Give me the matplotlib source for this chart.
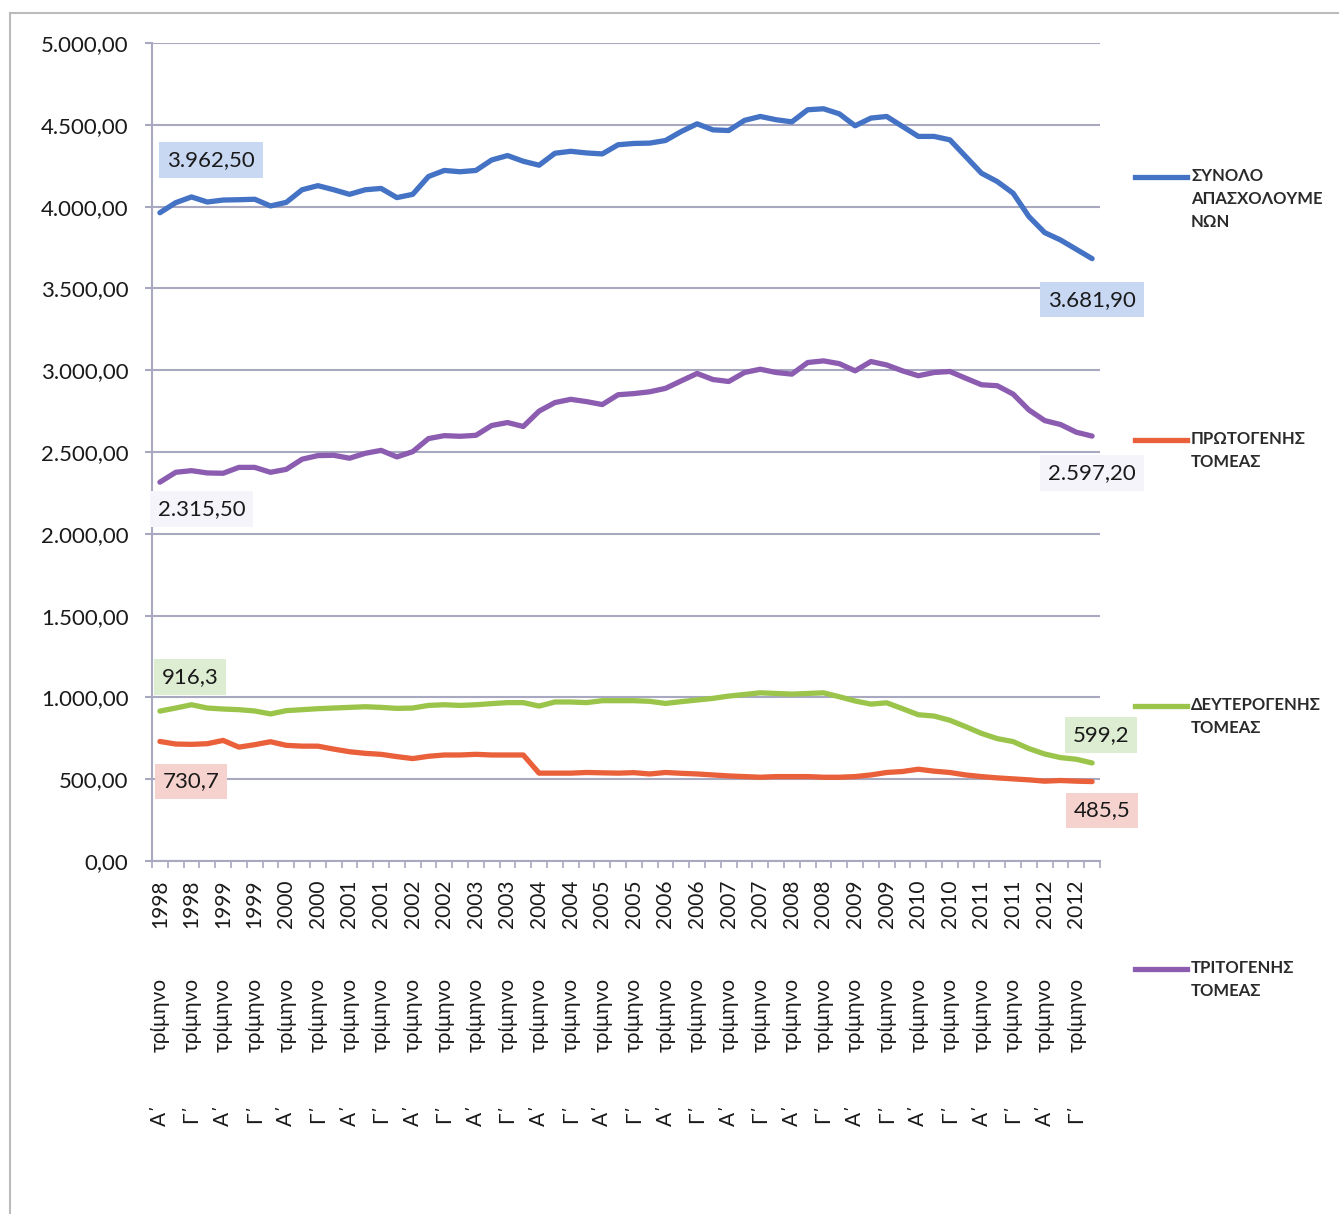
import matplotlib
matplotlib.use("Agg")
import matplotlib.pyplot as plt
from matplotlib.lines import Line2D
from matplotlib.ticker import FuncFormatter
import numpy as np

plt.rcParams['font.family'] = ['Lato', 'DejaVu Sans']

years = list(range(1998, 2013))
quarters = ["Α΄", "Β΄", "Γ΄", "Δ΄"]

total = [3962.5, 4024, 4059, 4028, 4040, 4042, 4045, 4004, 4026, 4103,
         4128, 4103, 4075, 4103, 4111, 4055, 4075, 4184, 4221, 4213,
         4221, 4285, 4312, 4277, 4253, 4326, 4338, 4328, 4322, 4378,
         4386, 4388, 4404, 4459, 4506, 4469, 4465, 4527, 4551, 4531,
         4518, 4592, 4598, 4567, 4494, 4541, 4551, 4490, 4429, 4429,
         4408, 4306, 4204, 4153, 4082, 3939, 3841, 3796, 3739, 3681.9]
primary = [730.7, 715, 713, 717, 737, 696, 711, 729, 707, 702,
           702, 684, 668, 658, 652, 638, 626, 640, 648, 648,
           652, 648, 648, 648, 537, 537, 537, 541, 539, 537,
           540, 532, 541, 536, 532, 526, 520, 516, 512, 516,
           516, 516, 512, 512, 516, 526, 541, 547, 561, 549,
           541, 526, 516, 508, 502, 496, 488, 492, 488, 485.5]
secondary = [916.3, 935, 955, 935, 929, 925, 917, 899, 919, 925,
             931, 935, 939, 943, 939, 933, 935, 951, 955, 951,
             955, 962, 968, 968, 947, 972, 972, 968, 980, 980,
             980, 976, 963, 974, 984, 994, 1008, 1018, 1028, 1024,
             1020, 1024, 1028, 1004, 978, 959, 967, 931, 894, 886,
             860, 821, 780, 748, 730, 687, 654, 632, 622, 599.2]
tertiary = [2315.5, 2376, 2386, 2372, 2370, 2406, 2406, 2376, 2394, 2456,
            2478, 2480, 2462, 2492, 2510, 2470, 2502, 2582, 2600, 2596,
            2602, 2662, 2680, 2656, 2750, 2802, 2822, 2808, 2790, 2850,
            2857, 2868, 2889, 2935, 2980, 2943, 2931, 2986, 3006, 2986,
            2976, 3047, 3057, 3040, 2996, 3053, 3032, 2996, 2966, 2986,
            2992, 2951, 2911, 2905, 2854, 2757, 2692, 2668, 2621, 2597.2]

names = ["ΣΥΝΟΛΟ\nΑΠΑΣΧΟΛΟΥΜΕ\nΝΩΝ", "ΠΡΩΤΟΓΕΝΗΣ\nΤΟΜΕΑΣ",
         "ΔΕΥΤΕΡΟΓΕΝΗΣ\nΤΟΜΕΑΣ", "ΤΡΙΤΟΓΕΝΗΣ\nΤΟΜΕΑΣ"]
series = [total, primary, secondary, tertiary]
colors = ["#4472C4", "#E9603A", "#9BC54A", "#8B5CB0"]
box_colors = ["#C8D7F2", "#F6D2CE", "#DDEDD2", "#F5F4FA"]
decimals = [2, 1, 1, 2]
# label offsets in pixels (first point, last point)
first_off = [(51, 53), (31, -40), (30, 34), (42, -27)]
last_off = [(0, -41), (10, -29), (9, 28), (0, -37)]

grid_col = "#A8A8C0"
txt_col = "#1a1a1a"


def gr(v, d):
    s = f"{v:,.{d}f}"
    return s.replace(",", "X").replace(".", ",").replace("X", ".")


fig = plt.figure(figsize=(13.39, 12.14), dpi=100)
ax = fig.add_axes([152 / 1339, 1 - 861 / 1214, (1100 - 152) / 1339, (861 - 43) / 1214])

x = np.arange(len(total))
for s, c in zip(series, colors):
    ax.plot(x, s, color=c, lw=3.8, solid_joinstyle='round', solid_capstyle='round', zorder=3)

for s, bc, d, fo, lo in zip(series, box_colors, decimals, first_off, last_off):
    for idx, off in ((0, fo), (len(s) - 1, lo)):
        ax.annotate(gr(s[idx], d), xy=(x[idx], s[idx]), xytext=off,
                    textcoords='offset pixels', ha='center', va='center',
                    fontsize=16, color=txt_col, zorder=4,
                    bbox=dict(boxstyle='square,pad=0.35', fc=bc, ec='none'))

ax.set_xlim(-0.5, len(total) - 0.5)
ax.set_ylim(0, 5000)
ax.set_yticks(np.arange(0, 5001, 500))
ax.yaxis.set_major_formatter(FuncFormatter(lambda v, p: gr(v, 2)))
ax.grid(axis='y', color=grid_col, lw=1.5)
ax.set_axisbelow(True)
for sp in ['top', 'right']:
    ax.spines[sp].set_visible(False)
for sp in ['left', 'bottom']:
    ax.spines[sp].set_color(grid_col)
    ax.spines[sp].set_linewidth(1.5)
ax.tick_params(axis='y', length=5, width=1.5, color=grid_col, pad=12,
               labelsize=16, labelcolor=txt_col)

# category boundaries as major ticks, labels on every second category
ax.set_xticks(np.arange(-0.5, len(total), 1))
ax.set_xticklabels([])
ax.tick_params(axis='x', which='major', length=5, width=1.2, color=grid_col)
lab_pos = x[::2]
year_lab = [str(years[i // 4]) for i in lab_pos]
q_lab = [quarters[i % 4] for i in lab_pos]
ax.set_xticks(lab_pos, minor=True)
ax.set_xticklabels(year_lab, minor=True)
ax.tick_params(axis='x', which='minor', length=0, pad=13.5, rotation=90,
               labelsize=15, labelcolor=txt_col)

axh = 861 - 43
for row, top in ((["τρίμηνο"] * len(lab_pos), 978), (q_lab, 1103)):
    sec = ax.secondary_xaxis(-(top - 861) / axh)
    sec.set_xticks(lab_pos, labels=row)
    sec.tick_params(length=0, pad=0, rotation=90, labelsize=15, labelcolor=txt_col)
    sec.spines['bottom'].set_visible(False)

# legend drawn to the right
leg_y = [177, 440, 706, 969]
for n, c, ly in zip(names, colors, leg_y):
    fy = 1 - ly / 1214
    fig.add_artist(Line2D([1135 / 1339, 1187 / 1339], [fy, fy], color=c, lw=3.8))
    fig.text(1191 / 1339, fy + 9 / 1214, n, ha='left', va='top', fontsize=12,
             color='#2a2a2a', linespacing=1.55, fontweight='bold')

# scan border
fig.add_artist(Line2D([10 / 1339, 10 / 1339], [0, 1 - 13 / 1214], color='#BBBBBB', lw=1.5))
fig.add_artist(Line2D([10 / 1339, 1], [1 - 13 / 1214, 1 - 13 / 1214], color='#BBBBBB', lw=1.5))

fig.savefig("out.png", dpi=100)
